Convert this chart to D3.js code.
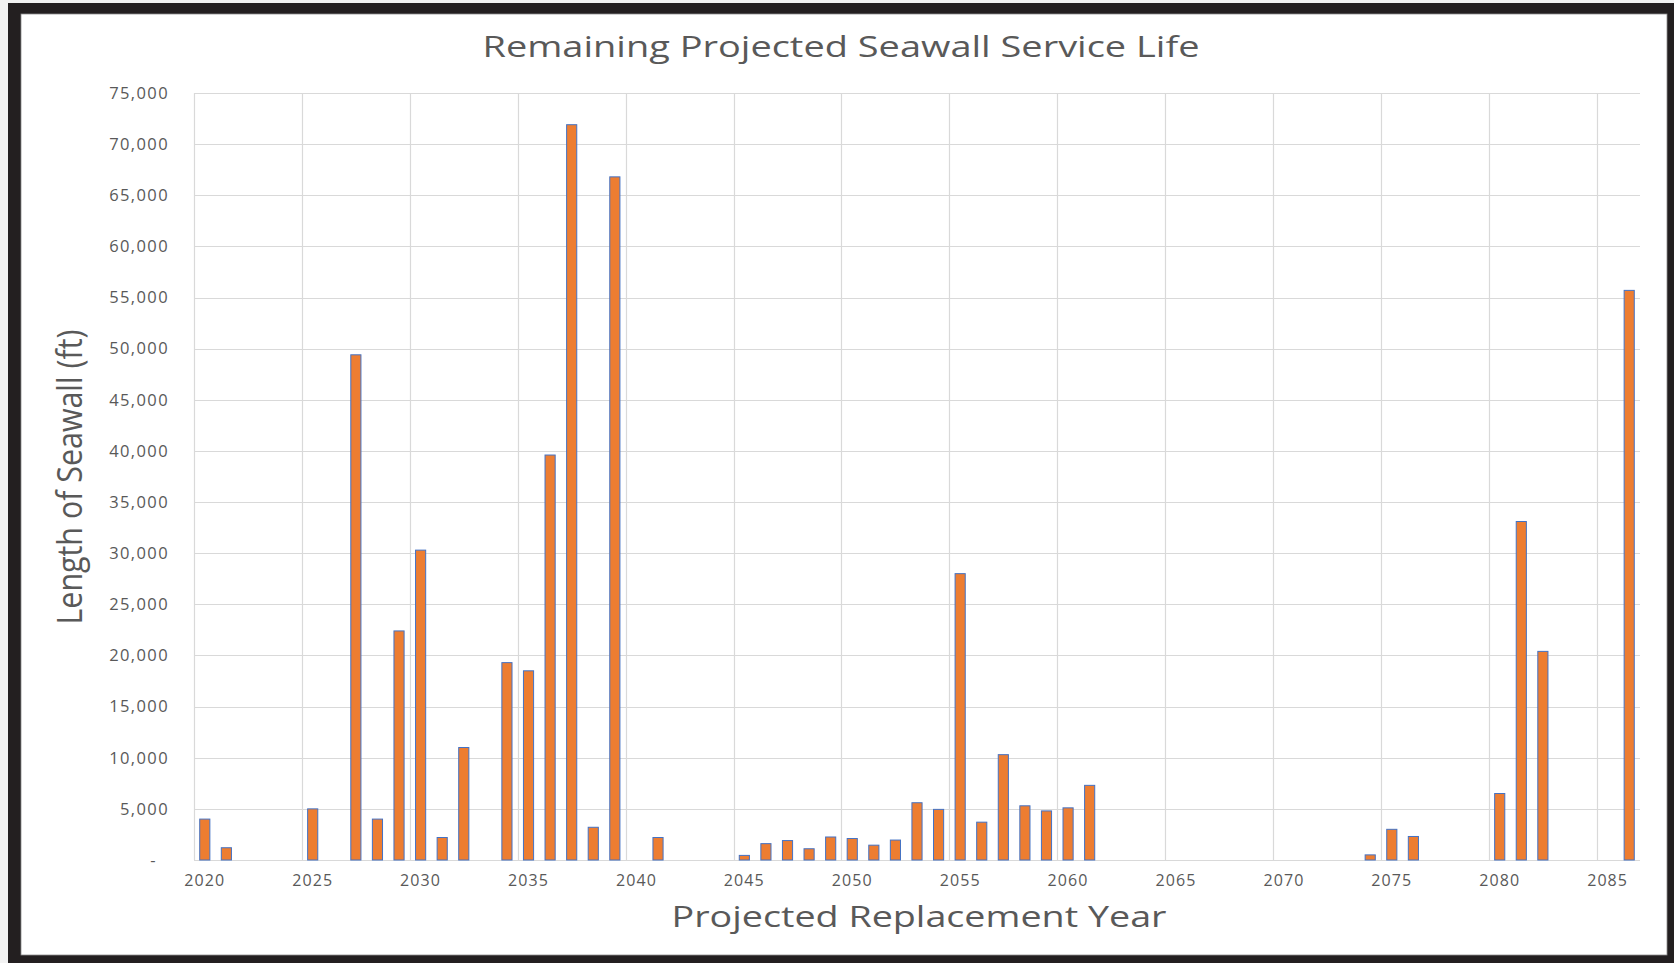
<!DOCTYPE html>
<html>
<head>
<meta charset="utf-8">
<script src="https://cdn.jsdelivr.net/npm/d3@7"></script>
<style>
  body { margin: 0; background: #ffffff; }
  svg text { font-family: "Open Sans", "Noto Sans", sans-serif; }
</style>
</head>
<body>
<svg id="chart" width="1674" height="963"></svg>
<script>
// ---- data ----
const years = ["2020","2021","2022","2023","2024","2025","2026","2027","2028","2029",
  "2030","2031","2032","2033","2034","2035","2036","2037","2038","2039",
  "2040","2041","2042","2043","2044","2045","2046","2047","2048","2049",
  "2050","2051","2052","2053","2054","2055","2056","2057","2058","2059",
  "2060","2061","2062","2063","2064","2065","2066","2067","2068","2069",
  "2070","2071","2072","2073","2074","2075","2076","2077","2078","2079",
  "2080","2081","2082","2083","2084","2085","2086"];
const seawallLength = [4000,1200,null,null,null,5000,null,49400,4000,22400,
  30300,2200,11000,null,19300,18500,39600,71900,3200,66800,
  null,2200,null,null,null,450,1600,1900,1100,2250,
  2100,1450,1950,5600,4950,28000,3700,10300,5300,4800,
  5100,7300,null,null,null,null,null,null,null,null,
  null,null,null,null,500,3000,2300,null,null,null,
  6500,33100,20400,null,null,null,55700];
const xTickYears = ["2020","2025","2030","2035","2040","2045","2050","2055","2060","2065","2070","2075","2080","2085"];
const yTickValues = [0,5000,10000,15000,20000,25000,30000,35000,40000,45000,50000,55000,60000,65000,70000,75000];
const chartTitle = "Remaining Projected Seawall Service Life";
const xAxisTitle = "Projected Replacement Year";
const yAxisTitle = "Length of Seawall (ft)";

// ---- layout ----
const W = 1674, H = 963;
const plot = { left: 194, right: 1640, top: 93, bottom: 860 };
const textColor = "#595959";
const gridColor = "#d9d9d9";

const svg = d3.select("#chart");

// frame
svg.append("rect").attr("x", 0).attr("y", 0).attr("width", W).attr("height", H).attr("fill", "#f2f2f2");
svg.append("rect").attr("x", 8).attr("y", 3).attr("width", W - 8).attr("height", H - 3).attr("fill", "#231f20");
svg.append("rect").attr("x", 21).attr("y", 14).attr("width", 1667 - 21).attr("height", 955 - 14)
  .attr("fill", "#ffffff").attr("stroke", "#8c8c8c").attr("stroke-width", 0.8);

// scales
const x = d3.scaleBand().domain(years).range([plot.left, plot.right]).padding(0);
const y = d3.scaleLinear().domain([0, 75000]).range([plot.bottom, plot.top]);

// horizontal gridlines
svg.append("g").selectAll("line").data(yTickValues).join("line")
  .attr("x1", plot.left).attr("x2", plot.right)
  .attr("y1", d => Math.round(y(d)) + 0.5).attr("y2", d => Math.round(y(d)) + 0.5)
  .attr("stroke", gridColor).attr("stroke-width", 1.2);

// vertical gridlines at category boundaries (every 5 years)
svg.append("g").selectAll("line").data(xTickYears).join("line")
  .attr("x1", d => Math.round(x(d)) + 0.5).attr("x2", d => Math.round(x(d)) + 0.5)
  .attr("y1", plot.top).attr("y2", plot.bottom)
  .attr("stroke", gridColor).attr("stroke-width", 1.2);

// bars
const barW = x.bandwidth() * 0.47;
svg.append("g").selectAll("rect")
  .data(years.map((yr, i) => ({ yr, v: seawallLength[i] })).filter(d => d.v != null))
  .join("rect")
  .attr("x", d => x(d.yr) + (x.bandwidth() - barW) / 2)
  .attr("width", barW)
  .attr("y", d => y(d.v))
  .attr("height", d => y(0) - y(d.v))
  .attr("fill", "#ED7D31")
  .attr("stroke", "#4472C4")
  .attr("stroke-width", 1);

// x axis
const xAxis = svg.append("g").attr("transform", `translate(0,${plot.bottom})`)
  .call(d3.axisBottom(x).tickValues(xTickYears).tickSize(0).tickPadding(15));
xAxis.select(".domain").remove();
xAxis.selectAll("text").attr("fill", textColor).style("font-size", "16px").style("letter-spacing", "1.1px");

// y axis
const yAxis = svg.append("g").attr("transform", `translate(${plot.left},0)`)
  .call(d3.axisLeft(y).tickValues(yTickValues).tickSize(0).tickPadding(25)
    .tickFormat(d => d === 0 ? "-" : d3.format(",")(d)));
yAxis.select(".domain").remove();
yAxis.selectAll("text").attr("fill", textColor).style("font-size", "16.5px").style("letter-spacing", "1.4px")
  .attr("dx", d => d === 0 ? -12 : 0);

// titles
svg.append("text").attr("x", 841).attr("y", 57).attr("text-anchor", "middle")
  .attr("textLength", 717).attr("lengthAdjust", "spacingAndGlyphs")
  .style("font-size", "29px").attr("fill", textColor).text(chartTitle);

svg.append("text").attr("x", 919).attr("y", 927).attr("text-anchor", "middle")
  .attr("textLength", 495).attr("lengthAdjust", "spacingAndGlyphs")
  .style("font-size", "29px").attr("fill", textColor).text(xAxisTitle);

svg.append("text").attr("transform", "translate(82,477) rotate(-90)").attr("text-anchor", "middle")
  .attr("textLength", 295).attr("lengthAdjust", "spacingAndGlyphs")
  .style("font-size", "34px").attr("fill", textColor).text(yAxisTitle);
</script>
</body>
</html>
